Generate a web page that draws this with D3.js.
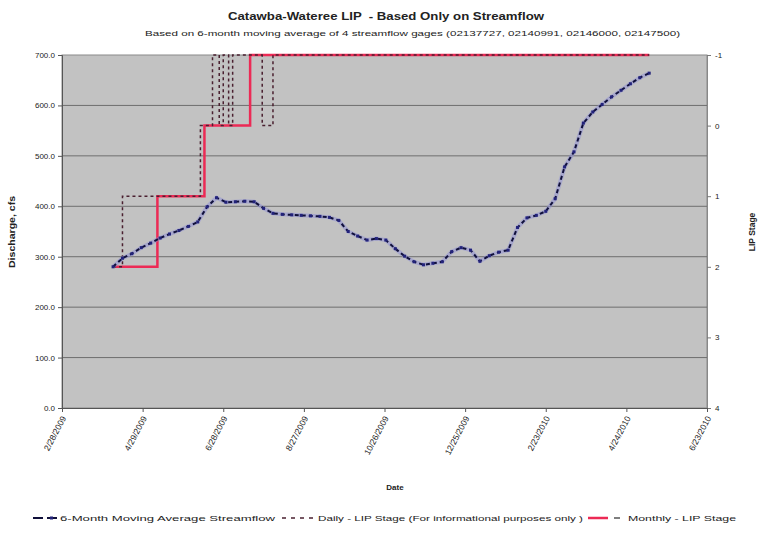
<html>
<head>
<meta charset="utf-8">
<script src="https://cdn.jsdelivr.net/npm/d3@7/dist/d3.min.js"></script>
<style>
body { margin: 0; background: #fff; }
text { font-family: "Liberation Sans", Arial, sans-serif; fill: #222; }
</style>
</head>
<body>
<div id="chart"></div>
<script>
// Data
var xTickLabels = ["2/28/2009", "4/29/2009", "6/28/2009", "8/27/2009", "10/26/2009",
	"12/25/2009", "2/23/2010", "4/24/2010", "6/23/2010"];
var leftTicks = [0, 100, 200, 300, 400, 500, 600, 700];
var rightTicks = [-1, 0, 1, 2, 3, 4];

// 6-month moving average streamflow (cfs), weekly
var maDates = ["4/7/2009", "4/14/2009", "4/21/2009", "4/28/2009", "5/5/2009", "5/12/2009", "5/19/2009", "5/26/2009",
	"6/2/2009", "6/9/2009", "6/16/2009", "6/23/2009", "6/30/2009", "7/7/2009", "7/14/2009", "7/21/2009", "7/28/2009",
	"8/4/2009", "8/11/2009", "8/18/2009", "8/25/2009", "9/1/2009", "9/8/2009", "9/15/2009", "9/22/2009", "9/29/2009",
	"10/6/2009", "10/13/2009", "10/20/2009", "10/27/2009", "11/3/2009", "11/10/2009", "11/17/2009", "11/24/2009",
	"12/1/2009", "12/8/2009", "12/15/2009", "12/22/2009", "12/29/2009", "1/5/2010", "1/12/2010", "1/19/2010",
	"1/26/2010", "2/2/2010", "2/9/2010", "2/16/2010", "2/23/2010", "3/2/2010", "3/9/2010", "3/16/2010", "3/23/2010",
	"3/30/2010", "4/6/2010", "4/13/2010", "4/20/2010", "4/27/2010", "5/4/2010", "5/11/2010"];
var maValues = [280, 297, 306, 318, 327, 337, 345, 352, 360, 369, 399, 417, 408, 409, 410, 409, 396,
	386, 384, 383, 382, 381, 380, 378, 372, 350, 341, 333, 336, 333, 316, 301, 290, 284,
	287, 290, 310, 318, 313, 291, 302, 309, 313, 358, 377, 382, 390, 415, 478, 508, 565,
	587, 602, 617, 630, 643, 655, 664];

// Daily LIP stage (steps)
var dailyDates = ["4/7/2009", "4/14/2009", "6/11/2009", "6/20/2009", "6/25/2009", "6/28/2009", "7/2/2009",
	"7/5/2009", "7/27/2009", "8/4/2009", "5/11/2010"];
var dailyStages = [2, 1, 0, -1, 0, -1, 0, -1, 0, -1, -1];

// Monthly LIP stage (steps)
var monthlyDates = ["4/7/2009", "5/10/2009", "6/14/2009", "7/18/2009", "5/11/2010"];
var monthlyStages = [2, 1, 0, -1, -1];

// Setup
var parse = d3.timeParse("%m/%d/%Y");
var svg = d3.select("#chart").append("svg")
	.attr("width", 769)
	.attr("height", 533);

var plotLeft = 62, plotRight = 707, plotTop = 55, plotBottom = 408;

var x = d3.scaleTime()
	.domain([parse(xTickLabels[0]), parse(xTickLabels[xTickLabels.length - 1])])
	.range([plotLeft, plotRight]);
var y = d3.scaleLinear().domain([0, 700]).range([plotBottom, plotTop]);
var y2 = d3.scaleLinear().domain([-1, 4]).range([plotTop, plotBottom]);

// Plot area
svg.append("rect")
	.attr("x", plotLeft).attr("y", plotTop)
	.attr("width", plotRight - plotLeft).attr("height", plotBottom - plotTop)
	.attr("fill", "#c2c2c2")
	.attr("stroke", "#8a8a8a");

// Gridlines
svg.selectAll(".grid").data(leftTicks.slice(1, -1)).enter().append("line")
	.attr("x1", plotLeft).attr("x2", plotRight)
	.attr("y1", function(d) { return y(d); })
	.attr("y2", function(d) { return y(d); })
	.attr("stroke", "#6e6e6e")
	.attr("stroke-width", 1);

// Left axis
var yAxis = d3.axisLeft(y).tickValues(leftTicks).tickFormat(d3.format(".1f")).tickSize(4).tickPadding(3);
var gy = svg.append("g").attr("transform", "translate(" + plotLeft + ",0)").call(yAxis);
gy.select(".domain").attr("stroke", "#555");
gy.selectAll(".tick line").attr("stroke", "#555");
gy.selectAll("text").attr("font-size", "8px").attr("fill", "#444").attr("font-family", "Liberation Sans, Arial");

// Right axis
var y2Axis = d3.axisRight(y2).tickValues(rightTicks).tickFormat(function(d) { return String(d); }).tickSize(4).tickPadding(4);
var gy2 = svg.append("g").attr("transform", "translate(" + plotRight + ",0)").call(y2Axis);
gy2.select(".domain").attr("stroke", "#888");
gy2.selectAll(".tick line").attr("stroke", "#777");
gy2.selectAll("text").attr("font-size", "8px").attr("fill", "#444").attr("font-family", "Liberation Sans, Arial");

// Bottom axis
var xAxis = d3.axisBottom(x).tickValues(xTickLabels.map(parse)).tickFormat(function(d, i) { return xTickLabels[i]; }).tickSize(4);
var gx = svg.append("g").attr("transform", "translate(0," + plotBottom + ")").call(xAxis);
gx.select(".domain").attr("stroke", "#555");
gx.selectAll(".tick line").attr("stroke", "#555");
gx.selectAll("text")
	.attr("font-size", "8.5px")
	.attr("fill", "#444")
	.attr("font-family", "Liberation Sans, Arial")
	.attr("text-anchor", "end")
	.attr("dy", null).attr("y", 0)
	.attr("transform", "translate(4,10) rotate(-62)");

// Lines
var maData = maDates.map(function(d, i) { return {date: parse(d), v: maValues[i]}; });
var dailyData = dailyDates.map(function(d, i) { return {date: parse(d), v: dailyStages[i]}; });
var monthlyData = monthlyDates.map(function(d, i) { return {date: parse(d), v: monthlyStages[i]}; });

var stepLine = d3.line().curve(d3.curveStepAfter)
	.x(function(d) { return x(d.date); })
	.y(function(d) { return y2(d.v); });

svg.append("path").datum(monthlyData)
	.attr("d", stepLine)
	.attr("fill", "none")
	.attr("stroke", "#ec2a55")
	.attr("stroke-width", 2.5);

svg.append("path").datum(dailyData)
	.attr("d", stepLine)
	.attr("fill", "none")
	.attr("stroke", "#4a2030")
	.attr("stroke-width", 1.5)
	.attr("stroke-dasharray", "3,3");

var maLine = d3.line()
	.x(function(d) { return x(d.date); })
	.y(function(d) { return y(d.v); });

svg.append("path").datum(maData)
	.attr("d", maLine)
	.attr("fill", "none")
	.attr("stroke", "#8c8cd8")
	.attr("stroke-width", 4)
	.attr("opacity", 0.5);
svg.append("path").datum(maData)
	.attr("d", maLine)
	.attr("fill", "none")
	.attr("stroke", "#10103a")
	.attr("stroke-width", 2)
	.attr("stroke-dasharray", "4,3");
svg.selectAll(".ma").data(maData).enter().append("rect")
	.attr("x", function(d) { return x(d.date) - 1.5; })
	.attr("y", function(d) { return y(d.v) - 1.5; })
	.attr("width", 3).attr("height", 3)
	.attr("fill", "#23237a");

// Titles
svg.append("text")
	.attr("x", 228).attr("y", 20)
	.attr("font-size", "10px").attr("font-weight", "bold")
	.attr("textLength", 316).attr("lengthAdjust", "spacingAndGlyphs")
	.attr("xml:space", "preserve")
	.text("Catawba-Wateree LIP  - Based Only on Streamflow");
svg.append("text")
	.attr("x", 145).attr("y", 36)
	.attr("font-size", "7.5px").attr("fill", "#444")
	.attr("textLength", 535).attr("lengthAdjust", "spacingAndGlyphs")
	.text("Based on 6-month moving average of 4 streamflow gages (02137727, 02140991, 02146000, 02147500)");

svg.append("text")
	.attr("x", 395).attr("y", 490)
	.attr("text-anchor", "middle")
	.attr("font-size", "8px").attr("font-weight", "bold")
	.text("Date");
svg.append("text")
	.attr("transform", "translate(15,232) rotate(-90)")
	.attr("text-anchor", "middle")
	.attr("font-size", "9px").attr("font-weight", "bold")
	.attr("textLength", 72).attr("lengthAdjust", "spacingAndGlyphs")
	.text("Discharge, cfs");
svg.append("text")
	.attr("transform", "translate(755,232) rotate(-90)")
	.attr("text-anchor", "middle")
	.attr("font-size", "8.5px").attr("font-weight", "bold")
	.text("LIP Stage");

// Legend
var ly = 518;
var lg = svg.append("g");
lg.append("line").attr("x1", 33).attr("x2", 57).attr("y1", ly).attr("y2", ly)
	.attr("stroke", "#10103a").attr("stroke-width", 2).attr("stroke-dasharray", "10,4");
lg.append("rect").attr("x", 50).attr("y", ly - 1.5).attr("width", 3).attr("height", 3).attr("fill", "#23237a");
lg.append("text").attr("x", 60).attr("y", ly + 3)
	.attr("font-size", "8px").attr("fill", "#555")
	.attr("textLength", 215).attr("lengthAdjust", "spacingAndGlyphs")
	.text("6-Month Moving Average Streamflow");
lg.append("line").attr("x1", 282).attr("x2", 313).attr("y1", ly).attr("y2", ly)
	.attr("stroke", "#4a2030").attr("stroke-width", 1.5).attr("stroke-dasharray", "4,5");
lg.append("text").attr("x", 318).attr("y", ly + 3)
	.attr("font-size", "8px").attr("fill", "#555")
	.attr("textLength", 265).attr("lengthAdjust", "spacingAndGlyphs")
	.text("Daily - LIP Stage (For informational purposes only )");
lg.append("line").attr("x1", 588).attr("x2", 608).attr("y1", ly).attr("y2", ly)
	.attr("stroke", "#ec2a55").attr("stroke-width", 2.5);
lg.append("line").attr("x1", 614).attr("x2", 620).attr("y1", ly).attr("y2", ly)
	.attr("stroke", "#555").attr("stroke-width", 1.5);
lg.append("text").attr("x", 628).attr("y", ly + 3)
	.attr("font-size", "8px").attr("fill", "#555")
	.attr("textLength", 108).attr("lengthAdjust", "spacingAndGlyphs")
	.text("Monthly - LIP Stage");
</script>
</body>
</html>
